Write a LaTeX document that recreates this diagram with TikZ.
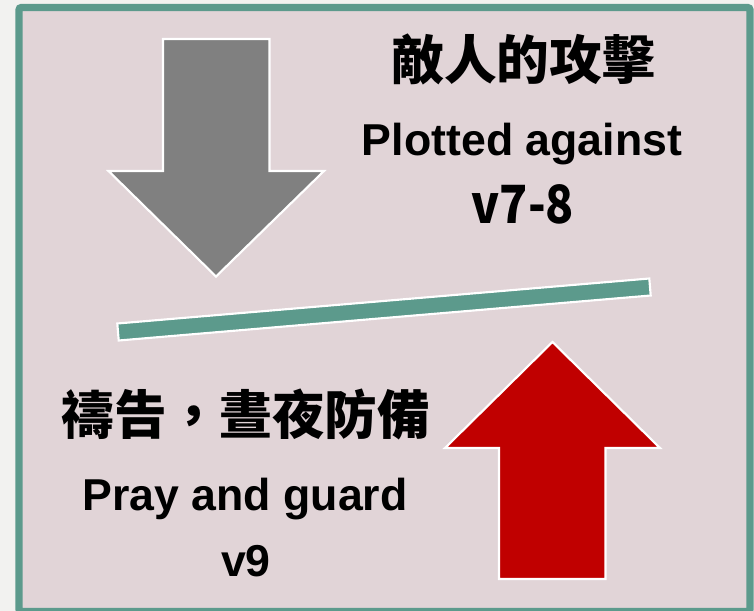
\documentclass[tikz,border=0pt]{standalone}
\usepackage{fontspec}
\setmainfont{Liberation Sans}
\newfontfamily\cjk{Noto Sans CJK TC}
\definecolor{pagebg}{HTML}{F2F2F0}
\definecolor{boxbg}{HTML}{E1D4D7}
\definecolor{teal}{HTML}{5C9A8C}
\definecolor{arrowgray}{HTML}{808080}
\definecolor{arrowred}{HTML}{C00000}
\tikzset{
  shapeline/.style={draw=white, line width=1.6pt, line join=miter},
  cjktext/.style={anchor=base, inner sep=0pt, font=\cjk\bfseries\fontsize{39.5pt}{40pt}\selectfont},
  digtext/.style={anchor=base, inner sep=0pt, xscale=0.88, font=\cjk\bfseries\fontsize{39.5pt}{40pt}\selectfont},
  entext/.style={anchor=base, inner sep=0pt, font=\bfseries\fontsize{33.5pt}{34pt}\selectfont}
}
\begin{document}
\begin{tikzpicture}[x=0.75pt, y=-0.75pt]
\useasboundingbox (0,0) rectangle (754,611);
\fill[pagebg] (0,0) rectangle (754,611);
% frame
\draw[teal, fill=boxbg, line width=5.6pt, rounded corners=2pt] (19,7.5) rectangle (750,611.5);
% grey arrow (down)
\filldraw[arrowgray, shapeline] (163,39) -- (269.5,39) -- (269.5,171) -- (324,171) -- (216,276.5) -- (108.5,171) -- (163,171) -- cycle;
% red arrow (up)
\filldraw[arrowred, shapeline] (552.5,342) -- (660,448) -- (605.5,448) -- (605.5,579) -- (499,579) -- (499,448) -- (445,448) -- cycle;
% tilted bar
\filldraw[teal, shapeline] (117.3,323.5) -- (649.3,278.5) -- (650.7,295.5) -- (118.7,340.5) -- cycle;
% texts
\node[cjktext] (enemy) at (523,79) {敵人的攻擊};
\node[entext] (plotted) at (522,155) {Plotted against};
\node[digtext] (v78) at (523,223) {v7-8};
\node[cjktext] (pray) at (246,434) {禱告，晝夜防備};
\node[entext] (guard) at (245,510) {Pray and guard};
\node[entext] (v9) at (246,576) {v9};
\end{tikzpicture}
\end{document}
